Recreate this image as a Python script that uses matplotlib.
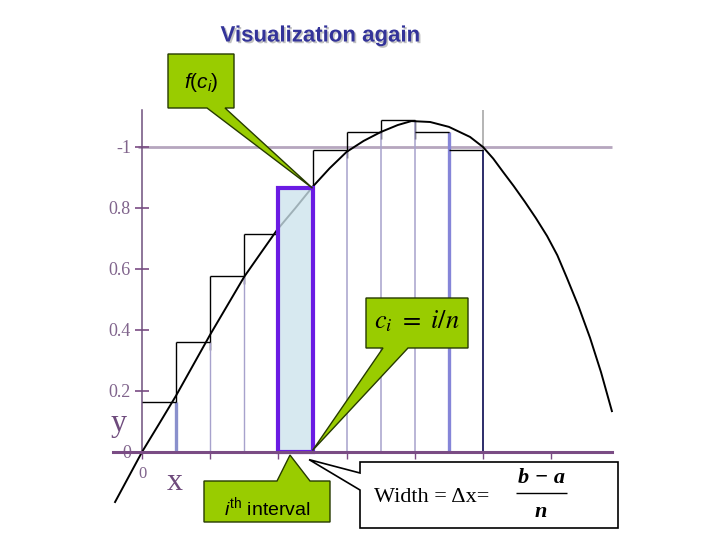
import matplotlib
matplotlib.use('Agg')
import matplotlib.pyplot as plt
import matplotlib.patheffects as pe
from matplotlib.patches import Polygon, Rectangle

# ---------------- data ----------------
title = 'Visualization again'
interval_edges = [0.0, 0.1, 0.2, 0.3, 0.4, 0.5, 0.6, 0.7, 0.8, 0.9, 1.0]
rect_heights = [0.164, 0.36, 0.577, 0.715, 0.865, 0.99, 1.05, 1.09, 1.05, 0.99]
highlight_index = 4
curve_x = [-0.079, 0.0, 0.05, 0.1, 0.15, 0.2, 0.25, 0.3, 0.35, 0.396, 0.45, 0.5, 0.55, 0.6,
           0.65, 0.7, 0.75, 0.79, 0.845, 0.9, 0.962, 1.0, 1.03, 1.059, 1.09, 1.123,
           1.155, 1.188, 1.218, 1.246, 1.28, 1.314, 1.346, 1.378]
curve_y = [-0.164, 0.0, 0.092, 0.185, 0.285, 0.385, 0.48, 0.575, 0.655, 0.728, 0.80, 0.869,
           0.93, 0.984, 1.02, 1.049, 1.072, 1.085, 1.082, 1.066, 1.033, 1.0, 0.962, 0.918,
           0.872, 0.820, 0.767, 0.708, 0.645, 0.571, 0.478, 0.374, 0.262, 0.134]
ytick_values = [0.0, 0.2, 0.4, 0.6, 0.8, 1.0]
ytick_labels = ['0', '0.2', '0.4', '0.6', '0.8', '-1']
xtick_values = [0.0, 0.2, 0.4, 0.6, 0.8, 1.0, 1.2]
xtick_labels = ['0', '', '', '', '', '', '']

# styles
line_colors = ['#8A90CC', '#A7A2CC', '#A7A2CC', '#A7A2CC', '#A7A2CC', '#A7A2CC',
               '#A7A2CC', '#A7A2CC', '#8585D8', '#1B1B5E']
line_widths = [2.4, 1.0, 1.0, 1.0, 1.0, 1.1, 1.1, 1.1, 2.4, 1.3]
purple = '#7A4C84'
label_purple = '#80648C'
green = '#99CC00'
green_edge = '#263A00'

plt.rcParams['mathtext.fontset'] = 'custom'
plt.rcParams['mathtext.rm'] = 'Liberation Sans'
plt.rcParams['mathtext.it'] = 'Liberation Sans:italic'
plt.rcParams['mathtext.bf'] = 'Liberation Sans:bold'

W, H = 720, 540
fig = plt.figure(figsize=(7.2, 5.4), dpi=100)
fig.patch.set_facecolor('white')

# ---------------- chart axes ----------------
ax = fig.add_axes([0, 0, 1, 1])
ax.set_xlim(-142 / 341, 578 / 341)
ax.set_ylim(-88 / 305, 452 / 305)
ax.patch.set_alpha(0)
for s in ['top', 'right']:
    ax.spines[s].set_visible(False)
ax.spines['left'].set_position(('data', 0))
ax.spines['bottom'].set_position(('data', 0))
ax.spines['left'].set_bounds(0, 1.12)
ax.spines['bottom'].set_bounds(-0.085, 1.378)
ax.spines['left'].set_color('#6F4F7D')
ax.spines['left'].set_linewidth(1.1)
ax.spines['bottom'].set_color(purple)
ax.spines['bottom'].set_linewidth(2.2)
ax.spines['bottom'].set_zorder(6)

ax.set_yticks(ytick_values, ytick_labels)
ax.set_xticks(xtick_values, xtick_labels)
ax.tick_params(axis='y', direction='inout', length=10, width=1.2, color=purple,
               labelcolor=label_purple, labelsize=13, pad=3)
ax.tick_params(axis='x', direction='out', length=5, width=1.0, color=purple,
               labelcolor=label_purple, labelsize=12, pad=5)
for lab in ax.get_yticklabels() + ax.get_xticklabels():
    lab.set_fontfamily('Liberation Serif')

# line at y = 1
ax.hlines(1.0, -0.012, 1.378, color='#B6A6BE', lw=2.0, zorder=1)

# vertical lines at the right edges of the intervals
for xe, h, c, w in zip(interval_edges[1:], rect_heights, line_colors, line_widths):
    ax.vlines(xe, 0, h, color=c, lw=w, zorder=2)
ax.vlines(interval_edges[-1], rect_heights[-1], 1.12, color='#A8A8A8', lw=1.2, zorder=2)

# staircase (rectangle tops and risers)
ax.hlines(rect_heights, interval_edges[:-1], interval_edges[1:], color='black', lw=1.0, zorder=3)
for i in range(1, len(rect_heights)):
    lo = min(rect_heights[i - 1], rect_heights[i]) - 0.025
    hi = max(rect_heights[i - 1], rect_heights[i])
    ax.vlines(interval_edges[i], lo, hi, color='black', lw=1.0, zorder=1.5)

# curve
ax.plot(curve_x, curve_y, color='black', lw=1.4, zorder=3.5)

# highlighted rectangle
x0 = interval_edges[highlight_index]
w0 = interval_edges[highlight_index + 1] - x0
ax.add_patch(Rectangle((x0, 0), w0, rect_heights[highlight_index],
                       facecolor=(0.80, 0.89, 0.925, 0.78), edgecolor='#6A1BE3',
                       lw=3.0, zorder=5))

# ---------------- overlay (pixel coords) ----------------
ov = fig.add_axes([0, 0, 1, 1])
ov.set_xlim(0, W)
ov.set_ylim(H, 0)
ov.axis('off')
ov.patch.set_alpha(0)


def to_px(x, y):
    dx, dy = ax.transData.transform((x, y))
    return (dx, H - dy)


# title
ov.text(320, 36, title, ha='center', va='center', fontsize=16, fontweight='bold',
        color='#333399', family='Liberation Sans',
        path_effects=[pe.withSimplePatchShadow(offset=(1.2, -1.2), shadow_rgbFace='#999999', alpha=0.6)])

# axis letters
ov.text(119, 424, 'y', ha='center', va='center', fontsize=23, color='#6E4A7C', family='Liberation Serif')
ov.text(175, 482, 'x', ha='center', va='center', fontsize=23, color='#6E4A7C', family='Liberation Serif')

# callout: f(c_i)
tip = to_px(interval_edges[highlight_index + 1], rect_heights[highlight_index])
poly = [(168, 54), (234, 54), (234, 108), (225, 108), tip, (207, 108), (168, 108)]
ov.add_patch(Polygon(poly, closed=True, facecolor=green, edgecolor=green_edge, lw=1.0, zorder=10))
ov.text(201, 82, r'$f(c_i)$', ha='center', va='center', fontsize=15, color='black',
        math_fontfamily='custom', zorder=11)

# callout: c_i = i/n
tip = to_px(interval_edges[highlight_index + 1], 0.005)
poly = [(366, 298), (468, 298), (468, 348), (408, 348), tip, (383, 348), (366, 348)]
ov.add_patch(Polygon(poly, closed=True, facecolor=green, edgecolor=green_edge, lw=1.0, zorder=10))
ov.text(417, 321, r'$c_i\ =\ i/n$', ha='center', va='center', fontsize=19, color='black',
        math_fontfamily='stix', zorder=11)

# callout: i-th interval
tip = to_px(0.434, -0.01)
poly = [(204, 481), (277, 481), tip, (310, 481), (330, 481), (330, 522), (204, 522)]
ov.add_patch(Polygon(poly, closed=True, facecolor=green, edgecolor=green_edge, lw=1.0, zorder=10))
ov.text(267, 507, r'$i^{\mathrm{th}}$ interval', ha='center', va='center', fontsize=14,
        color='black', family='Liberation Sans', math_fontfamily='custom', zorder=11)

# callout: width
tip = to_px(0.49, -0.025)
poly = [(360, 462), (618, 462), (618, 528), (360, 528), (360, 490), tip, (360, 473)]
ov.add_patch(Polygon(poly, closed=True, facecolor='white', edgecolor='black', lw=1.2, zorder=10))
ov.text(374, 498, 'Width = \u0394x=', ha='left', va='center', fontsize=16, color='black',
        family='Liberation Serif', zorder=11)
ov.text(541, 478, 'b \u2212 a', ha='center', va='center', fontsize=16, color='black',
        family='Liberation Serif', fontweight='bold', fontstyle='italic', zorder=11)
ov.text(541, 512, 'n', ha='center', va='center', fontsize=16, color='black',
        family='Liberation Serif', fontweight='bold', fontstyle='italic', zorder=11)
ov.hlines(493, 516, 567, color='black', lw=1.0, zorder=11)

fig.savefig('out.png', dpi=100)
